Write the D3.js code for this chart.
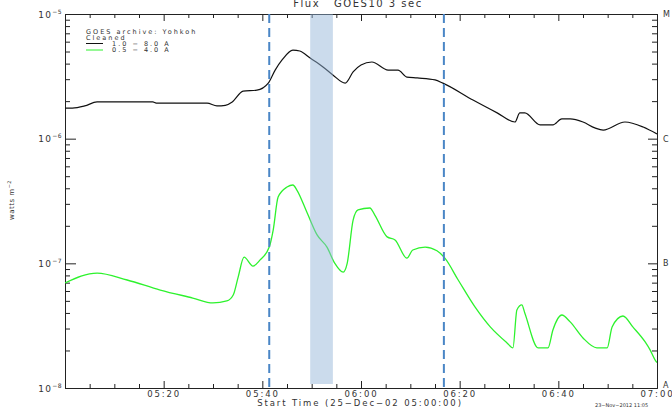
<!DOCTYPE html>
<html>
<head>
<meta charset="utf-8">
<script src="https://cdn.jsdelivr.net/npm/d3@7"></script>
<style>
  body { margin: 0; background: #fff; }
  text { font-family: "DejaVu Sans", sans-serif; fill: #333; }
</style>
</head>
<body>
<svg id="chart" width="672" height="408"></svg>
<script>
// GOES-10 X-ray flux, 25-Dec-2002, times in minutes after 05:00 UT
const longTime = [0, 1.5, 4, 6.5, 12, 17.8, 18.5, 28.8, 30.8, 32.5, 33.9, 36.1, 38.9, 41.2, 42.6, 44.0,
  46.2, 47.6, 49.7, 52.3, 54.3, 56.8, 58.4, 60.0, 62.2, 65.5, 67.5, 69.3, 71.4, 75.0, 76.6, 82.7,
  87.6, 91.2, 92.2, 93.2, 96.3, 98.9, 100.7, 102.4, 105.0, 107.4, 109.1, 113.5, 117.2, 120];
const longFlux = [1.76e-6, 1.76e-6, 1.83e-6, 1.97e-6, 1.97e-6, 1.97e-6, 1.93e-6, 1.93e-6, 1.83e-6, 1.85e-6,
  1.97e-6, 2.41e-6, 2.45e-6, 2.79e-6, 3.55e-6, 4.28e-6, 5.14e-6, 5.05e-6, 4.43e-6, 3.76e-6, 3.24e-6,
  2.79e-6, 3.43e-6, 3.90e-6, 4.12e-6, 3.55e-6, 3.55e-6, 3.12e-6, 3.07e-6, 2.96e-6, 2.79e-6, 2.04e-6,
  1.61e-6, 1.36e-6, 1.61e-6, 1.61e-6, 1.29e-6, 1.29e-6, 1.44e-6, 1.44e-6, 1.36e-6, 1.22e-6, 1.17e-6,
  1.36e-6, 1.24e-6, 1.09e-6];

const shortTime = [0, 6.5, 12.6, 19.3, 25.9, 30.0, 32.8, 34.1, 35.1, 36.3, 38.1, 39.5, 41.4, 42.2, 43.2,
  45.0, 46.2, 47.0, 49.1, 51.1, 53.1, 54.7, 56.4, 57.2, 58.4, 59.4, 61.8, 62.8, 65.3, 66.9, 69.3, 70.5,
  73.0, 75.4, 77.0, 79.7, 83.1, 86.2, 89.6, 90.8, 91.6, 92.6, 93.2, 95.9, 97.9, 98.9, 100.7, 102.4,
  105.0, 107.8, 109.9, 110.9, 113.1, 115.1, 117.6, 118.6, 119.6, 120];
const shortFlux = [6.95e-8, 8.36e-8, 7.35e-8, 6.11e-8, 5.27e-8, 4.81e-8, 4.99e-8, 5.57e-8, 7.76e-8, 1.12e-7,
  9.51e-8, 1.06e-7, 1.35e-7, 1.85e-7, 3.40e-7, 4.09e-7, 4.25e-7, 3.87e-7, 2.53e-7, 1.69e-7, 1.35e-7,
  1.00e-7, 8.51e-8, 1.00e-7, 2.22e-7, 2.68e-7, 2.78e-7, 2.44e-7, 1.63e-7, 1.54e-7, 1.10e-7, 1.28e-7,
  1.35e-7, 1.26e-7, 1.10e-7, 7.35e-8, 4.47e-8, 3.09e-8, 2.30e-8, 2.10e-8, 4.23e-8, 4.64e-8, 4.00e-8,
  2.10e-8, 2.10e-8, 2.92e-8, 3.85e-8, 3.39e-8, 2.52e-8, 2.10e-8, 2.10e-8, 3.09e-8, 3.78e-8, 3.09e-8,
  2.34e-8, 2.02e-8, 1.68e-8, 1.60e-8];

// event markers and the shaded interval (minutes after 05:00)
const markerTimes = [41.4, 76.8];
const bandTimes = [49.7, 54.3];

// axis ticks
const majorMinutes = [0, 20, 40, 60, 80, 100, 120];
const majorLabels = ["", "05:20", "05:40", "06:00", "06:20", "06:40", "07:00"];
const decades = [1e-8, 1e-7, 1e-6, 1e-5];
const decadeExponents = ["\u22128", "\u22127", "\u22126", "\u22125"];
const flareClasses = ["A", "B", "C", "M"];
const legendLines = ["GOES archive: Yohkoh", "Cleaned"];
const seriesNames = ["1.0 \u2212 8.0 A", "0.5 \u2212 4.0 A"];

const svg = d3.select("#chart");
const L = 65, R = 657, T = 14, B = 388;

const x = d3.scaleLinear().domain([0, 120]).range([L, R]);
const y = d3.scaleLog().domain([1e-8, 1e-5]).range([B, T]);

const minorMinutes = d3.range(0, 121, 5).filter(m => m % 20 !== 0);
const minorFlux = [];
[1e-8, 1e-7, 1e-6].forEach(d => { for (let k = 2; k <= 9; k++) minorFlux.push(k * d); });

const axisColor = "#222";
function styleAxis(g) {
  g.selectAll("path, line").attr("stroke", axisColor).attr("stroke-width", 1);
  g.selectAll("text").attr("fill", "#333").attr("font-family", "DejaVu Sans, sans-serif");
}

// bottom axis
svg.append("g").attr("transform", `translate(0,${B})`)
  .call(d3.axisBottom(x).tickValues(minorMinutes).tickSize(-4).tickSizeOuter(0).tickFormat(""))
  .call(styleAxis);
const bottom = svg.append("g").attr("transform", `translate(0,${B})`)
  .call(d3.axisBottom(x).tickValues(majorMinutes).tickSize(-7).tickSizeOuter(0).tickPadding(3)
    .tickFormat((d, i) => majorLabels[i]))
  .call(styleAxis);
bottom.selectAll("text").attr("font-size", 8.5).attr("letter-spacing", 1.9);

// top axis
svg.append("g").attr("transform", `translate(0,${T})`)
  .call(d3.axisTop(x).tickValues(minorMinutes).tickSize(-4).tickSizeOuter(0).tickFormat(""))
  .call(styleAxis);
svg.append("g").attr("transform", `translate(0,${T})`)
  .call(d3.axisTop(x).tickValues(majorMinutes).tickSize(-7).tickSizeOuter(0).tickFormat(""))
  .call(styleAxis);

// left axis
svg.append("g").attr("transform", `translate(${L},0)`)
  .call(d3.axisLeft(y).tickValues(minorFlux).tickSize(-5).tickSizeOuter(0).tickFormat(""))
  .call(styleAxis);
const left = svg.append("g").attr("transform", `translate(${L},0)`)
  .call(d3.axisLeft(y).tickValues(decades).tickSize(-11).tickSizeOuter(0).tickPadding(3).tickFormat(""))
  .call(styleAxis);
left.selectAll(".tick text").each(function (d, i) {
  const t = d3.select(this).attr("font-size", 9).attr("letter-spacing", 1.2).attr("dy", "0.35em");
  t.append("tspan").text("10");
  t.append("tspan").attr("font-size", 6).attr("dy", -4).attr("letter-spacing", 0.5).text(decadeExponents[i]);
});

// right axis with flare classes
svg.append("g").attr("transform", `translate(${R},0)`)
  .call(d3.axisRight(y).tickValues(minorFlux).tickSize(-5).tickSizeOuter(0).tickFormat(""))
  .call(styleAxis);
const right = svg.append("g").attr("transform", `translate(${R},0)`)
  .call(d3.axisRight(y).tickValues(decades).tickSize(-9).tickSizeOuter(0).tickPadding(6)
    .tickFormat((d, i) => flareClasses[i]))
  .call(styleAxis);
right.selectAll("text").attr("font-size", 8).attr("dy", (d, i) => i === 0 ? "-0.05em" : "0.32em");

// axis titles
svg.append("text").attr("x", 358).attr("y", 7).attr("text-anchor", "middle")
  .attr("font-size", 10).attr("letter-spacing", 1.5).attr("xml:space", "preserve")
  .text("Flux   GOES10 3 sec");
svg.append("text").attr("x", 360).attr("y", 406).attr("text-anchor", "middle")
  .attr("font-size", 8.5).attr("letter-spacing", 1.9)
  .text("Start Time (25\u2212Dec\u221202 05:00:00)");
const yl = svg.append("text").attr("transform", "translate(14,200) rotate(-90)")
  .attr("text-anchor", "middle").attr("font-size", 7).attr("letter-spacing", 0.5);
yl.append("tspan").text("watts m");
yl.append("tspan").attr("font-size", 5).attr("dy", -3).text("\u22122");
svg.append("text").attr("x", 595).attr("y", 407).attr("font-size", 5).attr("fill", "#555")
  .text("23\u2212Nov\u22122012 11:05");

// flux curves
svg.append("clipPath").attr("id", "plot").append("rect")
  .attr("x", L).attr("y", T).attr("width", R - L).attr("height", B - T);
const line = d3.line().x(d => x(d[0])).y(d => y(d[1])).curve(d3.curveMonotoneX);
const plot = svg.append("g").attr("clip-path", "url(#plot)");
plot.append("path").datum(d3.zip(longTime, longFlux)).attr("d", line)
  .attr("fill", "none").attr("stroke", "#111").attr("stroke-width", 1.2);
plot.append("path").datum(d3.zip(shortTime, shortFlux)).attr("d", line)
  .attr("fill", "none").attr("stroke", "#2df22d").attr("stroke-width", 1.3);

// shaded interval and event markers
plot.append("rect").attr("x", x(bandTimes[0])).attr("width", x(bandTimes[1]) - x(bandTimes[0]))
  .attr("y", T).attr("height", B - T - 4).attr("fill", "#93b3d8").attr("fill-opacity", 0.48);
plot.selectAll(".marker").data(markerTimes).join("line").attr("class", "marker")
  .attr("x1", d => x(d)).attr("x2", d => x(d)).attr("y1", T).attr("y2", B)
  .attr("stroke", "#4a86c6").attr("stroke-width", 2).attr("stroke-dasharray", "9,5");

// legend
const lg = svg.append("g").attr("font-size", 6.5).attr("letter-spacing", 2);
legendLines.forEach((s, i) => {
  lg.append("text").attr("x", 86).attr("y", 33.5 + i * 6.5).text(s);
});
const legendColors = ["#111", "#2df22d"];
seriesNames.forEach((s, i) => {
  const yy = 43.5 + i * 6.5;
  lg.append("line").attr("x1", 86).attr("x2", 103).attr("y1", yy).attr("y2", yy)
    .attr("stroke", legendColors[i]).attr("stroke-width", 1);
  lg.append("text").attr("x", 112).attr("y", yy + 2.4).text(s);
});
</script>
</body>
</html>
